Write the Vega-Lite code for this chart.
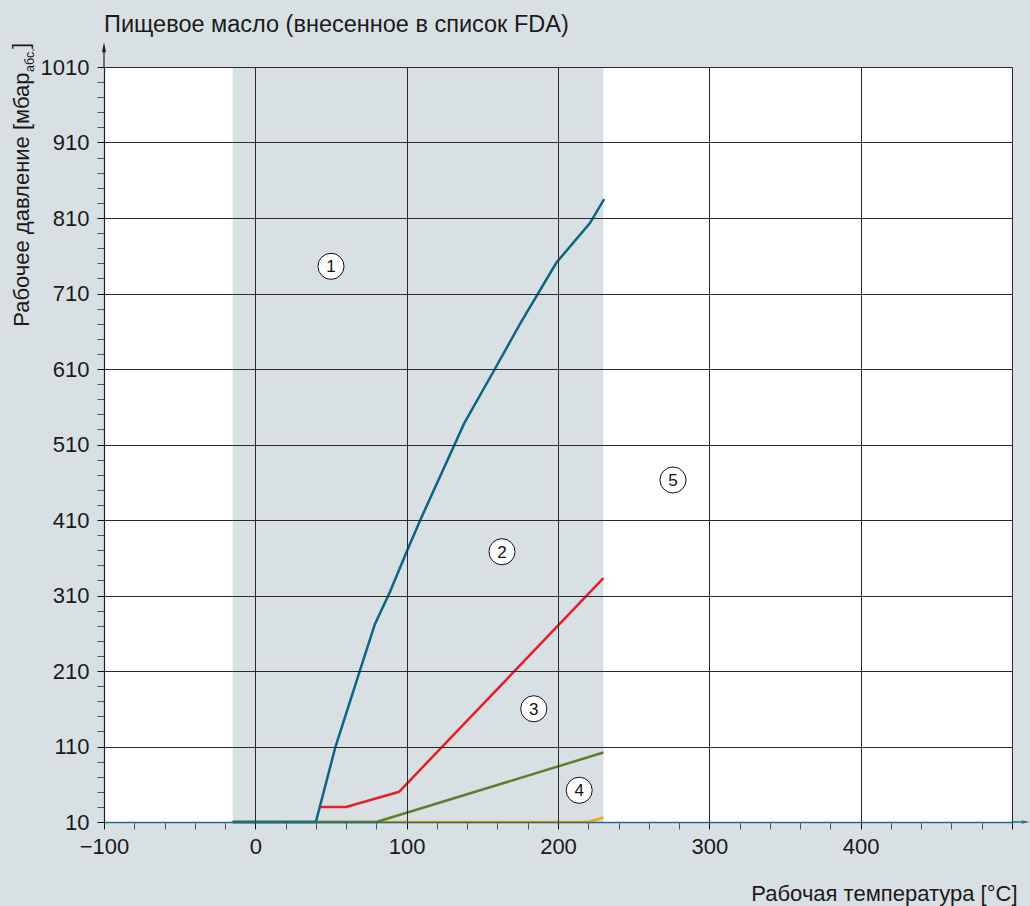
{
  "$schema": "https://vega.github.io/schema/vega-lite/v6.json",
  "width": 908,
  "height": 755,
  "autosize": {"type": "none"},
  "padding": {"left": 104, "top": 67, "right": 18, "bottom": 84},
  "background": "#d9e0e4",
  "config": {
    "view": {"fill": "#ffffff", "stroke": null},
    "font": "Liberation Sans"
  },
  "title": {
    "text": "Пищевое масло (внесенное в список FDA)",
    "anchor": "start",
    "frame": "group",
    "orient": "top",
    "fontSize": 23.5,
    "fontWeight": "normal",
    "font": "Liberation Sans",
    "color": "#1a1a1a",
    "baseline": "alphabetic",
    "offset": 10,
    "dy": 23
  },
  "encoding": {
    "x": {
      "field": "x",
      "type": "quantitative",
      "scale": {"domain": [-100, 500], "nice": false, "zero": false},
      "axis": {
        "values": [-100, -80, -60, -40, -20, 0, 20, 40, 60, 80, 100, 120, 140, 160, 180, 200, 220, 240, 260, 280, 300, 320, 340, 360, 380, 400, 420, 440, 460, 480, 500],
        "format": "d",
        "labelExpr": "(datum.value % 100 == 0 && datum.value < 500) ? datum.label : ''",
        "labelFontSize": 22,
        "labelColor": "#1a1a1a",
        "labelPadding": 7,
        "labelFont": "Liberation Sans",
        "labelFlush": false,
        "labelOverlap": false,
        "tickSize": 7,
        "tickColor": {"condition": {"test": "datum.value % 100 == 0", "value": "#111111"}, "value": "#555555"},
        "tickWidth": 1,
        "grid": true,
        "gridColor": "#2a2a2a",
        "gridWidth": 1,
        "gridOpacity": {"condition": {"test": "datum.value % 100 == 0 && datum.value > -100", "value": 1}, "value": 0},
        "domainColor": "#1d6e8c",
        "domainWidth": 1.5,
        "title": "Рабочая температура [°C]",
        "titleFontSize": 22,
        "titleFontWeight": "normal",
        "titleColor": "#1a1a1a",
        "titleFont": "Liberation Sans",
        "titleAlign": "right",
        "titleAnchor": "end",
        "titleBaseline": "alphabetic",
        "titleX": 913,
        "titleY": 78,
        "zindex": 1
      }
    },
    "y": {
      "field": "y",
      "type": "quantitative",
      "scale": {"domain": [10, 1010], "nice": false, "zero": false},
      "axis": {
        "values": [10, 30, 50, 70, 90, 110, 130, 150, 170, 190, 210, 230, 250, 270, 290, 310, 330, 350, 370, 390, 410, 430, 450, 470, 490, 510, 530, 550, 570, 590, 610, 630, 650, 670, 690, 710, 730, 750, 770, 790, 810, 830, 850, 870, 890, 910, 930, 950, 970, 990, 1010],
        "format": "d",
        "labelExpr": "((datum.value - 10) % 100 == 0) ? datum.label : ''",
        "labelFontSize": 22,
        "labelColor": "#1a1a1a",
        "labelPadding": 8,
        "labelFont": "Liberation Sans",
        "labelFlush": false,
        "labelOverlap": false,
        "tickSize": 7,
        "tickColor": {"condition": {"test": "(datum.value - 10) % 100 == 0", "value": "#111111"}, "value": "#555555"},
        "tickWidth": 1,
        "grid": true,
        "gridColor": "#2a2a2a",
        "gridWidth": 1,
        "gridOpacity": {"condition": {"test": "(datum.value - 10) % 100 == 0 && datum.value > 10", "value": 1}, "value": 0},
        "domainColor": "#222222",
        "domainWidth": 1.2,
        "title": "Рабочее давление [мбар",
        "titleFontSize": 22,
        "titleFontWeight": "normal",
        "titleColor": "#1a1a1a",
        "titleFont": "Liberation Sans",
        "titleAngle": 270,
        "titleAlign": "right",
        "titleAnchor": "end",
        "titleBaseline": "alphabetic",
        "titleX": -76,
        "titleY": 5,
        "zindex": 1
      }
    }
  },
  "layer": [
    {
      "data": {"values": [{"x": -15, "x2": 230, "y": 10, "y2": 1010}]},
      "mark": {"type": "rect", "color": "#d9e0e4"},
      "encoding": {"x2": {"field": "x2"}, "y2": {"field": "y2"}}
    },
    {
      "data": {"values": [
        {"curve": "4", "x": -15, "y": 10},
        {"curve": "4", "x": 220, "y": 10},
        {"curve": "4", "x": 230, "y": 16}
      ]},
      "mark": {"type": "line", "color": "#f2a900", "strokeWidth": 2.5, "clip": false},
      "encoding": {}
    },
    {
      "data": {"values": [
        {"curve": "3", "x": -15, "y": 10},
        {"curve": "3", "x": 80, "y": 10},
        {"curve": "3", "x": 230, "y": 102}
      ]},
      "mark": {"type": "line", "color": "#5f7d2e", "strokeWidth": 2.5},
      "encoding": {}
    },
    {
      "data": {"values": [
        {"curve": "2", "x": 42, "y": 30},
        {"curve": "2", "x": 60, "y": 30},
        {"curve": "2", "x": 95, "y": 50},
        {"curve": "2", "x": 230, "y": 333}
      ]},
      "mark": {"type": "line", "color": "#e3202c", "strokeWidth": 2.5},
      "encoding": {}
    },
    {
      "data": {"values": [
        {"curve": "1", "x": -15, "y": 10},
        {"curve": "1", "x": 40, "y": 10},
        {"curve": "1", "x": 53, "y": 110},
        {"curve": "1", "x": 70, "y": 216},
        {"curve": "1", "x": 79, "y": 272},
        {"curve": "1", "x": 89, "y": 315},
        {"curve": "1", "x": 100, "y": 368},
        {"curve": "1", "x": 109, "y": 410},
        {"curve": "1", "x": 138, "y": 538},
        {"curve": "1", "x": 158, "y": 609},
        {"curve": "1", "x": 175, "y": 670},
        {"curve": "1", "x": 199, "y": 751},
        {"curve": "1", "x": 221, "y": 803},
        {"curve": "1", "x": 230.5, "y": 835}
      ]},
      "mark": {"type": "line", "color": "#0c6584", "strokeWidth": 2.5},
      "encoding": {}
    },
    {
      "data": {"values": [{"x": -100, "y": 1010, "y2": 1038}]},
      "mark": {"type": "rule", "color": "#222222", "strokeWidth": 1.2, "clip": false},
      "encoding": {"y2": {"field": "y2"}}
    },
    {
      "data": {"values": [{"x": 500, "x2": 506, "y": 10}]},
      "mark": {"type": "rule", "color": "#1d6e8c", "strokeWidth": 1.5, "clip": false},
      "encoding": {"x2": {"field": "x2"}}
    },
    {
      "data": {"values": [{"x": -100, "y": 1036}]},
      "mark": {"type": "point", "shape": "M0,-1L0.4,1L-0.4,1Z", "size": 100, "filled": true, "color": "#222222", "opacity": 1, "clip": false},
      "encoding": {}
    },
    {
      "data": {"values": [{"x": 509, "y": 10}]},
      "mark": {"type": "point", "shape": "M1,0L-1,-0.4L-1,0.4Z", "size": 70, "filled": true, "color": "#1d6e8c", "opacity": 1, "clip": false},
      "encoding": {}
    },
    {
      "data": {"values": [
        {"n": "1", "x": 50, "y": 746},
        {"n": "2", "x": 163, "y": 368},
        {"n": "3", "x": 184, "y": 160},
        {"n": "4", "x": 214, "y": 52},
        {"n": "5", "x": 276, "y": 463}
      ]},
      "layer": [
        {
          "mark": {"type": "point", "shape": "circle", "size": 680, "filled": true, "fill": "#ffffff", "stroke": "#111111", "strokeWidth": 1, "opacity": 1},
          "encoding": {}
        },
        {
          "mark": {"type": "text", "fontSize": 17, "color": "#111111", "font": "Liberation Sans", "align": "center", "baseline": "middle", "dy": 1},
          "encoding": {"text": {"field": "n"}}
        }
      ]
    },
    {
      "data": {"values": [{"x": -100, "y": 1010, "t": "абс."}]},
      "mark": {"type": "text", "angle": 270, "fontSize": 12.5, "color": "#1a1a1a", "font": "Liberation Sans", "align": "left", "baseline": "alphabetic", "dx": -5, "dy": -70, "clip": false},
      "encoding": {"text": {"field": "t"}}
    },
    {
      "data": {"values": [{"x": -100, "y": 1010, "t": "]"}]},
      "mark": {"type": "text", "angle": 270, "fontSize": 22, "color": "#1a1a1a", "font": "Liberation Sans", "align": "left", "baseline": "alphabetic", "dx": 18, "dy": -76, "clip": false},
      "encoding": {"text": {"field": "t"}}
    }
  ]
}
